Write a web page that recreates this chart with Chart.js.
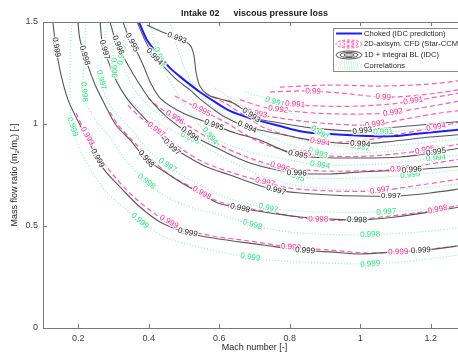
<!DOCTYPE html>
<html>
<head>
<meta charset="utf-8">
<script src="https://cdn.jsdelivr.net/npm/chart.js@4.4.0/dist/chart.umd.min.js"></script>
<style>
  html, body { margin: 0; padding: 0; background: #fff; overflow: hidden; }
  canvas { display: block; }
</style>
</head>
<body>
<canvas id="c" width="470" height="354"></canvas>
<script>
// ---- axis ticks ----
const xTicks = [0.2, 0.4, 0.6, 0.8, 1.0, 1.2];
const xTickLabels = ['0.2', '0.4', '0.6', '0.8', '1', '1.2'];
const yTicks = [0, 0.5, 1.0, 1.5];
const yTickLabels = ['0', '0.5', '1', '1.5'];

// ---- choked line (IDC prediction) [Mach, mass flow ratio] ----
const choked = [[0.372,1.5],[0.395,1.412],[0.423,1.348],[0.460,1.275],[0.494,1.225],[0.545,1.157],[0.588,1.108],[0.630,1.064],[0.687,1.029],[0.772,0.990],[0.843,0.961],[0.914,0.951],[1.022,0.941],[1.099,0.941],[1.155,0.951],[1.212,0.961],[1.3,0.975]];

// ---- 1D + integral BL (IDC) contours ----
const idc999 = [[0.128,1.5],[0.134,1.412],[0.148,1.265],[0.171,1.118],[0.205,0.995],[0.239,0.882],[0.270,0.784],[0.327,0.676],[0.375,0.593],[0.432,0.520],[0.503,0.471],[0.582,0.441],[0.724,0.407],[0.829,0.382],[0.914,0.373],[1.002,0.363],[1.099,0.373],[1.184,0.382],[1.3,0.407]];
const idc998 = [[0.199,1.5],[0.205,1.412],[0.222,1.314],[0.248,1.191],[0.276,1.093],[0.307,0.995],[0.347,0.922],[0.395,0.824],[0.446,0.765],[0.494,0.711],[0.545,0.662],[0.596,0.613],[0.659,0.588],[0.744,0.564],[0.829,0.544],[0.914,0.534],[1.0,0.529],[1.099,0.544],[1.198,0.569],[1.3,0.598]];
const idc997 = [[0.262,1.5],[0.267,1.412],[0.279,1.338],[0.304,1.225],[0.341,1.118],[0.398,1.010],[0.440,0.931],[0.466,0.887],[0.517,0.833],[0.565,0.789],[0.630,0.750],[0.701,0.706],[0.761,0.676],[0.829,0.662],[0.914,0.652],[1.0,0.647],[1.099,0.647],[1.198,0.662],[1.3,0.686]];
const idc996 = [[0.290,1.5],[0.301,1.436],[0.316,1.373],[0.341,1.289],[0.375,1.191],[0.409,1.108],[0.455,1.029],[0.517,0.951],[0.594,0.882],[0.687,0.809],[0.815,0.760],[0.914,0.755],[1.0,0.765],[1.141,0.775],[1.3,0.794]];
const idc995 = [[0.327,1.5],[0.341,1.436],[0.361,1.373],[0.384,1.289],[0.404,1.206],[0.432,1.127],[0.480,1.069],[0.531,1.029],[0.585,0.995],[0.645,0.956],[0.707,0.926],[0.801,0.858],[0.857,0.838],[1.0,0.833],[1.113,0.838],[1.198,0.858],[1.3,0.887]];
const idc994 = [[0.367,1.5],[0.389,1.412],[0.412,1.338],[0.446,1.275],[0.480,1.216],[0.517,1.167],[0.545,1.123],[0.579,1.078],[0.616,1.034],[0.679,0.985],[0.772,0.951],[0.877,0.917],[1.0,0.902],[1.099,0.917],[1.198,0.936],[1.3,0.951]];
const idc993 = [[0.395,1.485],[0.432,1.456],[0.480,1.422],[0.517,1.387],[0.528,1.338],[0.534,1.255],[0.545,1.186],[0.568,1.142],[0.602,1.123],[0.639,1.103],[0.673,1.064],[0.702,1.029],[0.772,1.005],[0.866,0.980],[1.0,0.966],[1.070,0.980],[1.169,0.995],[1.3,1.015]];

// ---- 2D-axisym. CFD (Star-CCM) contours ----
const cfd999 = [[0.194,1.054],[0.219,0.961],[0.253,0.858],[0.299,0.750],[0.355,0.647],[0.418,0.559],[0.489,0.490],[0.582,0.451],[0.687,0.426],[0.801,0.397],[0.914,0.382],[1.013,0.368],[1.113,0.373],[1.198,0.387],[1.3,0.407]];
const cfd998 = [[0.290,1.059],[0.313,0.995],[0.352,0.922],[0.404,0.833],[0.460,0.750],[0.531,0.681],[0.588,0.627],[0.659,0.593],[0.744,0.569],[0.858,0.534],[0.971,0.529],[1.085,0.549],[1.198,0.574],[1.3,0.608]];
const cfd997 = [[0.341,1.093],[0.375,1.034],[0.426,0.966],[0.489,0.882],[0.560,0.809],[0.630,0.765],[0.716,0.721],[0.801,0.686],[0.914,0.672],[1.042,0.672],[1.170,0.701],[1.3,0.735]];
const cfd996 = [[0.398,1.127],[0.432,1.078],[0.477,1.029],[0.531,0.971],[0.602,0.897],[0.687,0.833],[0.772,0.789],[0.886,0.770],[1.0,0.770],[1.113,0.779],[1.198,0.804],[1.3,0.833]];
const cfd995 = [[0.474,1.137],[0.517,1.098],[0.560,1.059],[0.616,1.010],[0.702,0.922],[0.801,0.863],[0.914,0.843],[1.028,0.843],[1.170,0.868],[1.3,0.907]];
const cfd994 = [[0.560,1.152],[0.616,1.103],[0.674,1.039],[0.730,0.980],[0.801,0.941],[0.886,0.912],[1.0,0.917],[1.113,0.951],[1.215,0.985],[1.3,1.015]];
const cfd993 = [[0.625,1.118],[0.687,1.059],[0.772,1.029],[0.886,1.005],[1.028,0.995],[1.142,1.029],[1.226,1.054],[1.3,1.069]];
const cfd992 = [[0.659,1.118],[0.738,1.078],[0.829,1.059],[0.943,1.049],[1.084,1.054],[1.170,1.078],[1.3,1.118]];
const cfd991 = [[0.730,1.123],[0.801,1.098],[0.886,1.088],[1.0,1.088],[1.113,1.103],[1.198,1.127],[1.3,1.157]];
const cfd990 = [[0.744,1.157],[0.843,1.162],[0.943,1.152],[1.065,1.132],[1.170,1.142],[1.3,1.172]];
const cfd990b = [[0.772,1.181],[0.914,1.191],[1.056,1.186],[1.198,1.196],[1.3,1.216]];

// ---- correlation contours ----
const cor999 = [[0.182,1.5],[0.177,1.314],[0.177,1.118],[0.182,0.995],[0.205,0.873],[0.239,0.765],[0.282,0.662],[0.338,0.578],[0.389,0.505],[0.446,0.446],[0.517,0.407],[0.631,0.363],[0.744,0.333],[0.886,0.319],[1.028,0.314],[1.170,0.333],[1.3,0.363]];
const cor998 = [[0.222,1.5],[0.219,1.363],[0.214,1.216],[0.219,1.118],[0.248,1.020],[0.296,0.922],[0.333,0.824],[0.389,0.725],[0.446,0.647],[0.517,0.593],[0.625,0.544],[0.716,0.495],[0.830,0.466],[1.0,0.456],[1.170,0.471],[1.3,0.495]];
const cor997 = [[0.284,1.5],[0.273,1.387],[0.262,1.240],[0.276,1.142],[0.304,1.059],[0.347,0.980],[0.398,0.873],[0.452,0.799],[0.518,0.725],[0.625,0.637],[0.739,0.588],[0.886,0.569],[1.071,0.569],[1.198,0.583],[1.3,0.608]];
const cor996 = [[0.296,1.5],[0.299,1.387],[0.301,1.275],[0.324,1.167],[0.375,1.069],[0.446,0.985],[0.517,0.931],[0.616,0.833],[0.716,0.750],[0.829,0.696],[1.0,0.676],[1.170,0.686],[1.3,0.711]];
const cor995 = [[0.341,1.5],[0.324,1.338],[0.347,1.206],[0.398,1.093],[0.466,1.010],[0.545,0.936],[0.659,0.848],[0.815,0.745],[1.0,0.735],[1.141,0.750],[1.3,0.779]];
const cor994 = [[0.404,1.5],[0.418,1.387],[0.438,1.289],[0.474,1.167],[0.523,1.044],[0.574,0.941],[0.687,0.863],[0.801,0.824],[0.886,0.799],[1.056,0.804],[1.215,0.833],[1.3,0.853]];
const cor993 = [[0.460,1.5],[0.483,1.363],[0.517,1.216],[0.560,1.118],[0.630,1.029],[0.744,0.936],[0.880,0.858],[1.056,0.863],[1.198,0.887],[1.3,0.907]];
const cor992 = [[0.588,1.177],[0.659,1.093],[0.730,0.995],[0.829,0.922],[1.0,0.887],[1.170,0.907],[1.3,0.931]];
const cor991 = [[0.673,1.157],[0.758,1.108],[0.829,1.020],[0.886,0.956],[1.065,0.961],[1.198,0.980],[1.3,1.0]];

// ---- contour labels [level, Mach, mass flow ratio] ----
const idcLabels = [[0.999,0.140,1.377],[0.999,0.256,0.833],[0.999,0.511,0.471],[0.999,0.843,0.373],[0.999,1.172,0.382],
  [0.998,0.222,1.338],[0.998,0.389,0.824],[0.998,0.659,0.588],[0.998,0.991,0.529],
  [0.997,0.273,1.363],[0.997,0.466,0.887],[0.997,0.761,0.676],[0.997,1.087,0.647],
  [0.996,0.313,1.387],[0.996,0.517,0.951],[0.996,0.820,0.760],[0.996,1.147,0.765],
  [0.995,0.355,1.402],[0.995,0.585,0.995],[0.995,0.823,0.848],[0.995,1.215,0.863],
  [0.994,0.418,1.333],[0.994,0.679,0.985],[0.994,1.0,0.902],
  [0.993,0.480,1.422],[0.993,0.687,1.034],[0.993,1.006,0.966]];
const cfdLabels = [[0.999,0.216,0.931],[0.999,0.452,0.505],[0.999,0.803,0.392],[0.999,1.108,0.363],
  [0.998,0.554,0.672],[0.998,0.881,0.534],[0.998,1.221,0.569],
  [0.997,0.418,0.966],[0.997,0.730,0.716],[0.997,1.056,0.672],
  [0.996,0.477,1.039],[0.996,0.772,0.789],[0.996,1.113,0.775],
  [0.995,0.548,1.064],[0.995,0.832,0.843],[0.995,1.184,0.868],
  [0.994,0.886,0.907],[0.994,1.215,0.985],
  [0.993,0.709,1.059],[0.993,1.042,0.995],
  [0.992,0.767,1.069],[0.992,1.093,1.054],
  [0.991,0.815,1.093],[0.991,1.150,1.118],
  [0.99,0.866,1.157],[0.99,1.065,1.132]];
const corLabels = [[0.999,0.182,0.985],[0.999,0.372,0.520],[0.999,0.688,0.348],[0.999,1.028,0.319],
  [0.998,0.216,1.157],[0.998,0.392,0.716],[0.998,0.691,0.490],[0.998,1.028,0.456],
  [0.997,0.265,1.216],[0.997,0.452,0.794],[0.997,0.739,0.588],[0.997,1.074,0.569],
  [0.996,0.301,1.275],[0.996,0.517,0.931],
  [0.995,0.324,1.338],[0.995,0.815,0.745],[0.995,1.142,0.750],
  [0.994,0.423,1.324],[0.994,0.574,0.941],[0.994,0.886,0.799],[0.994,1.215,0.833],
  [0.993,0.880,0.858],[0.992,1.0,0.887],
  [0.991,0.758,1.108],[0.991,0.886,0.956],[0.991,1.065,0.961]];

const FONT = '"Liberation Sans", Arial, sans-serif';
const COL = {
  idc: '#585858', idcText: '#262626',
  cfd: '#ff5fae', cfdText: '#ff2e8f',
  cor: '#a3f0c9', corText: '#2fe27a',
  blue: '#1c1cff', axis: '#7a7a7a', text: '#404040'
};

function contour(kind, level, pts) {
  const style = {
    idc: { borderColor: COL.idc, borderWidth: 1.1, borderDash: [], order: 2 },
    cfd: { borderColor: COL.cfd, borderWidth: 1.2, borderDash: [5, 3], order: 3 },
    cor: { borderColor: COL.cor, borderWidth: 1.2, borderDash: [1.2, 1.8], order: 4 }
  }[kind];
  return Object.assign({
    kind, level,
    data: pts.map(([x, y]) => ({ x, y })),
    showLine: true, pointRadius: 0, tension: 0.3, fill: false
  }, style);
}

const datasets = [
  { kind: 'blue', data: choked.map(([x, y]) => ({ x, y })), showLine: true, pointRadius: 0,
    tension: 0.3, borderColor: COL.blue, borderWidth: 2, order: 1 },
  contour('idc', 0.999, idc999), contour('idc', 0.998, idc998), contour('idc', 0.997, idc997),
  contour('idc', 0.996, idc996), contour('idc', 0.995, idc995), contour('idc', 0.994, idc994),
  contour('idc', 0.993, idc993),
  contour('cfd', 0.999, cfd999), contour('cfd', 0.998, cfd998), contour('cfd', 0.997, cfd997),
  contour('cfd', 0.996, cfd996), contour('cfd', 0.995, cfd995), contour('cfd', 0.994, cfd994),
  contour('cfd', 0.993, cfd993), contour('cfd', 0.992, cfd992), contour('cfd', 0.991, cfd991),
  contour('cfd', 0.99, cfd990), contour('cfd', 0.989, cfd990b),
  contour('cor', 0.999, cor999), contour('cor', 0.998, cor998), contour('cor', 0.997, cor997),
  contour('cor', 0.996, cor996), contour('cor', 0.995, cor995), contour('cor', 0.994, cor994),
  contour('cor', 0.993, cor993), contour('cor', 0.992, cor992), contour('cor', 0.991, cor991)
];

// place a label on the nearest segment of its contour, rotated along it
function drawLabels(chart, kind, list, color) {
  const ctx = chart.ctx, sx = chart.scales.x, sy = chart.scales.y;
  ctx.font = '8px ' + FONT;
  ctx.textAlign = 'center';
  ctx.textBaseline = 'middle';
  list.forEach(([lv, vx, vy]) => {
    const i = chart.data.datasets.findIndex(d => d.kind === kind && d.level === lv);
    if (i < 0) return;
    const pts = chart.getDatasetMeta(i).data;
    const px = sx.getPixelForValue(vx), py = sy.getPixelForValue(vy);
    let best = null;
    for (let k = 0; k < pts.length - 1; k++) {
      const p = pts[k], q = pts[k + 1];
      const dx = q.x - p.x, dy = q.y - p.y, L = dx * dx + dy * dy || 1;
      let t = ((px - p.x) * dx + (py - p.y) * dy) / L;
      t = Math.max(0, Math.min(1, t));
      const cx = p.x + t * dx, cy = p.y + t * dy;
      const d = (cx - px) ** 2 + (cy - py) ** 2;
      if (!best || d < best.d) best = { d, cx, cy, ang: Math.atan2(dy, dx) };
    }
    let ang = best.ang;
    if (ang > Math.PI / 2) ang -= Math.PI;
    if (ang < -Math.PI / 2) ang += Math.PI;
    const txt = String(lv);
    ctx.save();
    ctx.translate(best.cx, best.cy);
    ctx.rotate(ang);
    ctx.lineWidth = 2.5;
    ctx.strokeStyle = 'rgba(255,255,255,0.85)';
    ctx.strokeText(txt, 0, 0);
    ctx.fillStyle = color;
    ctx.fillText(txt, 0, 0);
    ctx.restore();
  });
}

function ellipses(ctx, cx, cy, color, dash, lw) {
  ctx.save();
  ctx.strokeStyle = color;
  ctx.lineWidth = lw;
  ctx.setLineDash(dash);
  [[13, 4], [9, 2.6], [5, 1.3]].forEach(([rx, ry]) => {
    ctx.beginPath();
    ctx.ellipse(cx, cy, rx, ry, 0, 0, Math.PI * 2);
    ctx.stroke();
  });
  ctx.restore();
}

const deco = {
  id: 'deco',
  afterDatasetsDraw(chart) {
    const { ctx, chartArea: a } = chart;
    ctx.save();
    ctx.beginPath();
    ctx.rect(a.left, a.top, a.right - a.left, a.bottom - a.top);
    ctx.clip();
    drawLabels(chart, 'cor', corLabels, COL.corText);
    drawLabels(chart, 'cfd', cfdLabels, COL.cfdText);
    drawLabels(chart, 'idc', idcLabels, COL.idcText);
    ctx.restore();
  },
  afterDraw(chart) {
    const { ctx, chartArea: a, scales: { x, y } } = chart;
    ctx.save();
    // box + inward ticks
    ctx.strokeStyle = COL.axis;
    ctx.lineWidth = 1;
    ctx.beginPath();
    ctx.moveTo(a.left, a.top + 0.5); ctx.lineTo(a.right, a.top + 0.5);
    ctx.moveTo(a.right - 0.5, a.top); ctx.lineTo(a.right - 0.5, a.bottom);
    xTicks.forEach(v => {
      const px = Math.round(x.getPixelForValue(v)) + 0.5;
      ctx.moveTo(px, a.bottom); ctx.lineTo(px, a.bottom - 4);
      ctx.moveTo(px, a.top); ctx.lineTo(px, a.top + 4);
    });
    yTicks.forEach(v => {
      const py = Math.round(y.getPixelForValue(v)) + 0.5;
      ctx.moveTo(a.left, py); ctx.lineTo(a.left + 4, py);
      ctx.moveTo(a.right, py); ctx.lineTo(a.right - 4, py);
    });
    ctx.stroke();

    // title
    ctx.fillStyle = '#1a1a1a';
    ctx.font = 'bold 9px ' + FONT;
    ctx.textBaseline = 'middle';
    ctx.textAlign = 'left';
    const t1 = 'Intake 02', t2 = 'viscous pressure loss';
    const w1 = ctx.measureText(t1).width, w2 = ctx.measureText(t2).width, gap = 14;
    const cx = (a.left + a.right) / 2;
    const sx0 = cx - (w1 + gap + w2) / 2;
    ctx.fillText(t1, sx0, 14);
    ctx.fillText(t2, sx0 + w1 + gap, 14);

    // axis titles
    ctx.fillStyle = '#262626';
    ctx.font = '9px ' + FONT;
    ctx.textAlign = 'center';
    ctx.fillText('Mach number [-]', cx, 348);

    const parts = [['Mass flow ratio (m', 9, 0], ['2', 6, 2.5], ['/m', 9, 0], ['c', 6, 2.5], [') [-]', 9, 0]];
    let total = 0;
    parts.forEach(p => { ctx.font = p[1] + 'px ' + FONT; p.push(ctx.measureText(p[0]).width); total += p[3]; });
    ctx.save();
    ctx.translate(15, (a.top + a.bottom) / 2);
    ctx.rotate(-Math.PI / 2);
    ctx.textAlign = 'left';
    let off = -total / 2;
    parts.forEach(p => {
      ctx.font = p[1] + 'px ' + FONT;
      ctx.fillText(p[0], off, p[2]);
      off += p[3];
    });
    ctx.restore();

    // legend
    const lx = 333.5, ly = 28.5;
    ctx.fillStyle = '#fff';
    ctx.fillRect(lx, ly, 140, 43);
    ctx.strokeStyle = '#8a8a8a';
    ctx.lineWidth = 1;
    ctx.strokeRect(lx, ly, 140, 43);
    const rows = [33.5, 44, 55, 65.5];
    ctx.strokeStyle = COL.blue;
    ctx.lineWidth = 2;
    ctx.beginPath(); ctx.moveTo(336, rows[0]); ctx.lineTo(362, rows[0]); ctx.stroke();
    ellipses(ctx, 349, rows[1], COL.cfd, [3, 1.5], 1);
    ellipses(ctx, 349, rows[2], '#555', [], 1);
    ellipses(ctx, 349, rows[3], COL.cor, [1, 1.2], 1);
    ctx.fillStyle = '#262626';
    ctx.font = '7.6px ' + FONT;
    ctx.textAlign = 'left';
    ctx.textBaseline = 'middle';
    ['Choked (IDC prediction)', '2D-axisym. CFD (Star-CCM)', '1D + integral BL (IDC)', 'Correlations']
      .forEach((s, i) => ctx.fillText(s, 364, rows[i]));
    ctx.restore();
  }
};

new Chart(document.getElementById('c'), {
  type: 'scatter',
  data: { datasets },
  options: {
    responsive: false,
    animation: false,
    devicePixelRatio: 1,
    layout: { padding: { top: 22, right: 4, left: 0, bottom: 0 } },
    plugins: { legend: { display: false }, tooltip: { enabled: false }, title: { display: false } },
    scales: {
      x: {
        type: 'linear', min: 0.1, max: 1.3,
        afterFit(s) { s.height = 26; },
        afterBuildTicks(s) { s.ticks = xTicks.map(v => ({ value: v })); },
        grid: { display: false, drawTicks: false },
        border: { display: true, color: COL.axis },
        ticks: { font: { size: 9, family: FONT }, color: COL.text, padding: 5, maxRotation: 0, autoSkip: false,
          callback: (v, i) => xTickLabels[i] }
      },
      y: {
        type: 'linear', min: 0, max: 1.5,
        afterFit(s) { s.width = 43; },
        afterBuildTicks(s) { s.ticks = yTicks.map(v => ({ value: v })); },
        grid: { display: false, drawTicks: false },
        border: { display: true, color: COL.axis },
        ticks: { font: { size: 9, family: FONT }, color: COL.text, padding: 5, autoSkip: false,
          callback: (v, i) => yTickLabels[i] }
      }
    }
  },
  plugins: [deco]
});
</script>
</body>
</html>
